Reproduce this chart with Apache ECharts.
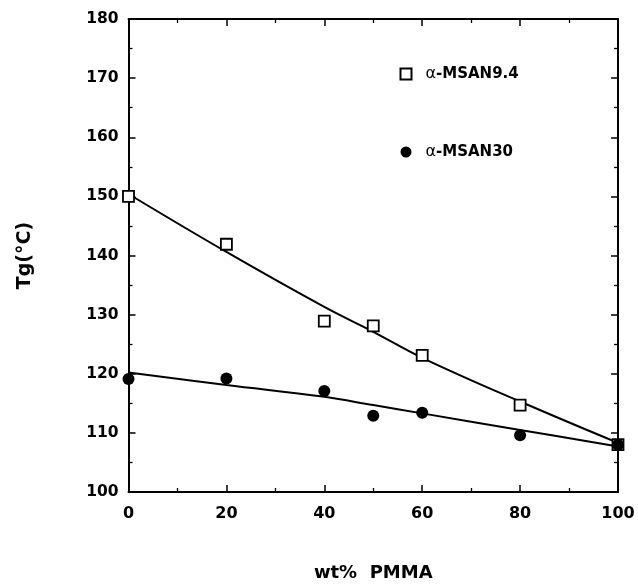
<!DOCTYPE html>
<html><head><meta charset="utf-8">
<script src="https://cdn.jsdelivr.net/npm/echarts@6/dist/echarts.min.js"></script>
<style>html,body{margin:0;padding:0;background:#fff}#c{width:638px;height:587px}</style>
</head><body><div id="c"></div>
<script>
const xTicks = [0, 20, 40, 60, 80, 100];
const yTicks = [100, 110, 120, 130, 140, 150, 160, 170, 180];
const wtPMMA = [0, 20, 40, 50, 60, 80, 100];
const msan94 = [150.0, 141.9, 128.9, 128.1, 123.1, 114.7, 108.0];
const msan30 = [119.1, 119.2, 117.1, 112.9, 113.4, 109.6, 108.0];
const fitX = [0, 20, 40, 50, 60, 80, 100];
const fit94 = [150.4, 140.6, 131.3, 127.1, 122.7, 115.3, 108.3];
const fit30 = [120.2, 118.1, 116.1, 114.7, 113.3, 110.5, 107.7];
const seriesNames = ['α-MSAN9.4', 'α-MSAN30'];

const pairs = (xs, ys) => xs.map((x, i) => [x, ys[i]]);
const font = '"DejaVu Sans", Verdana, sans-serif';
const mkAxis = (extra) => Object.assign({
  axisLine: { onZero: false, lineStyle: { color: '#000', width: 2 } },
  axisTick: { show: true, inside: true, length: 7, lineStyle: { color: '#000', width: 1.5 } },
  minorTick: { show: true, splitNumber: 2, length: 4, lineStyle: { color: '#000', width: 1.3 } },
  splitLine: { show: false }
}, extra);
const chart = echarts.init(document.getElementById('c'));
chart.setOption({
  animation: false,
  backgroundColor: '#fff',
  grid: { left: 128.5, right: 20, top: 19, bottom: 95, containLabel: false, outerBoundsMode: 'none' },
  xAxis: [
    mkAxis({
      type: 'value', min: xTicks[0], max: xTicks[xTicks.length - 1], interval: 20,
      name: 'wt%  PMMA', nameLocation: 'middle', nameGap: 72,
      nameTextStyle: { fontFamily: font, fontWeight: 'bold', fontSize: 18, color: '#000' },
      axisLabel: { margin: 14, fontFamily: font, fontWeight: 'bold', fontSize: 16, color: '#000' }
    }),
    mkAxis({
      type: 'value', position: 'top', min: 0, max: 100, interval: 20,
      axisLabel: { show: false }
    })
  ],
  yAxis: [
    mkAxis({
      type: 'value', min: yTicks[0], max: yTicks[yTicks.length - 1], interval: 10,
      name: 'Tg(°C)', nameLocation: 'middle', nameGap: 94, nameRotate: 90,
      nameTextStyle: { fontFamily: font, fontWeight: 'bold', fontSize: 19, color: '#000' },
      axisLabel: { margin: 10, fontFamily: font, fontWeight: 'bold', fontSize: 15.5, color: '#000' }
    }),
    mkAxis({
      type: 'value', position: 'right', min: 100, max: 180, interval: 10,
      axisLabel: { show: false }
    })
  ],
  legend: {
    data: seriesNames, orient: 'vertical', left: 394.5, top: 61,
    itemWidth: 11, itemHeight: 11, itemGap: 62,
    formatter: n => '{a|' + n.slice(0, 1) + '}{b|' + n.slice(1) + '}',
    textStyle: {
      color: '#000',
      rich: {
        a: { fontFamily: font, fontSize: 16, color: '#000', padding: [0, 0, 0, 9] },
        b: { fontFamily: font, fontSize: 15, fontWeight: 'bold', color: '#000' }
      }
    }
  },
  series: [
    { name: 'fit94', type: 'line', data: pairs(fitX, fit94), smooth: 0.4, showSymbol: false,
      lineStyle: { color: '#000', width: 2 }, silent: true, z: 2 },
    { name: 'fit30', type: 'line', data: pairs(fitX, fit30), smooth: 0.4, showSymbol: false,
      lineStyle: { color: '#000', width: 2 }, silent: true, z: 2 },
    { name: seriesNames[0], type: 'scatter', data: pairs(wtPMMA, msan94), symbol: 'rect', symbolSize: 11,
      itemStyle: { color: '#fff', borderColor: '#000', borderWidth: 1.8, opacity: 1 }, z: 3 },
    { name: seriesNames[1], type: 'scatter', data: pairs(wtPMMA, msan30), symbol: 'circle', symbolSize: 12,
      itemStyle: { color: '#000', opacity: 1 }, z: 4 }
  ]
});
</script></body></html>
